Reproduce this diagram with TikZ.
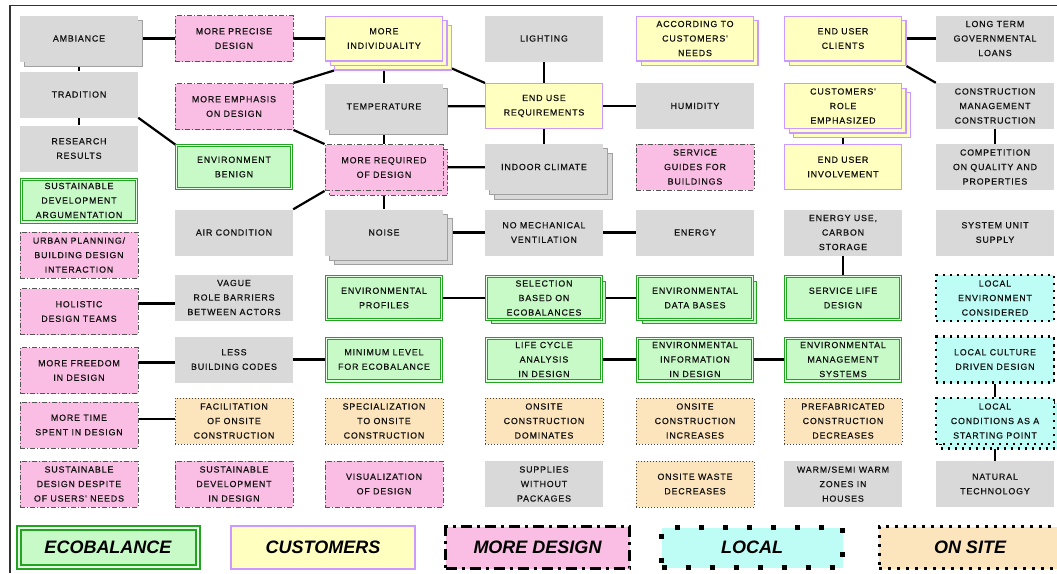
\documentclass[tikz,border=0pt]{standalone}
\usepackage{fontspec}
\usetikzlibrary{shadows,backgrounds}
\newfontfamily\dfont[LetterSpace=10,FakeBold=0.6]{Liberation Sans}
\newfontfamily\lfont{Liberation Sans}
\definecolor{boxgray}{HTML}{D9D9D9}
\definecolor{shadowgray}{HTML}{A0A0A0}
\definecolor{ecofill}{HTML}{C8FAC8}
\definecolor{ecogap}{HTML}{E6FFE6}
\definecolor{ecogreen}{HTML}{22A322}
\definecolor{custfill}{HTML}{FFFFC0}
\definecolor{custline}{HTML}{CC99FF}
\definecolor{pinkfill}{HTML}{FABEE4}
\definecolor{pinkline}{HTML}{555555}
\definecolor{localfill}{HTML}{BEFCF6}
\definecolor{sitefill}{HTML}{FCE4BC}
\definecolor{txt}{HTML}{111111}
\definecolor{framecol}{HTML}{333333}
\tikzset{
  base/.style={rectangle, minimum width=118pt, minimum height=46pt, inner sep=0pt,
    align=center, text=txt, font=\dfont\fontsize{8.8}{14.5}\selectfont},
  gbox/.style={base, fill=boxgray},
  ebox/.style={base, fill=ecofill, draw=ecogreen, line width=1pt, double=ecogap,
    double distance=1.4pt, minimum width=114.6pt, minimum height=42.6pt},
  cbox/.style={base, fill=custfill, draw=custline, line width=1.3pt,
    minimum width=116.7pt, minimum height=44.7pt},
  pbox/.style={base, fill=pinkfill, draw=pinkline, line width=0.9pt,
    dash pattern=on 5pt off 2pt on 1.2pt off 2pt},
  lbox/.style={base, fill=localfill, draw=black, line width=2.2pt,
    dash pattern=on 2.2pt off 4.8pt},
  obox/.style={base, fill=sitefill, draw=black!75, line width=0.9pt,
    dash pattern=on 0.9pt off 2.1pt},
  shA/.style={general shadow={shadow xshift=4.5pt, shadow yshift=-4.5pt, #1}},
  shB/.style={general shadow={shadow xshift=9pt, shadow yshift=-9pt, #1},
    general shadow={shadow xshift=4.5pt, shadow yshift=-4.5pt, #1}},
  gsh/.style={fill=boxgray, draw=shadowgray, line width=0.8pt},
  link/.style={line width=2.2pt, black},
  legbox/.style={rectangle, minimum width=186pt, minimum height=45pt, inner sep=0pt,
    text=black, font=\lfont\bfseries\itshape\fontsize{18}{20}\selectfont}
}
\begin{document}
\begin{tikzpicture}[x=1pt,y=-1pt]
\useasboundingbox (0,0) rectangle (1057,573);
\draw[framecol, line width=1.4pt] (10,573) -- (10,5.5) -- (1057,5.5);

% column 1
\node[gbox, shA={gsh}] (amb) at (79,38.5) {AMBIANCE};
\node[gbox] (trad) at (79,94.5) {TRADITION};
\node[gbox] (res) at (79,148.5) {RESEARCH\\RESULTS};
\node[ebox] (sda) at (79,200.5) {SUSTAINABLE\\DEVELOPMENT\\ARGUMENTATION};
\node[pbox] (urb) at (79,255) {URBAN PLANNING/\\BUILDING DESIGN\\INTERACTION};
\node[pbox] (hol) at (79,311.5) {HOLISTIC\\DESIGN TEAMS};
\node[pbox] (mfd) at (79,370.5) {MORE FREEDOM\\IN DESIGN};
\node[pbox] (mts) at (79,425) {MORE TIME\\SPENT IN DESIGN};
\node[pbox] (sdd) at (79,484) {SUSTAINABLE\\DESIGN DESPITE\\OF USERS' NEEDS};

% column 2
\node[pbox] (mpd) at (234,38.5) {MORE PRECISE\\DESIGN};
\node[pbox] (med) at (234,106.5) {MORE EMPHASIS\\ON DESIGN};
\node[ebox] (eb) at (234,167) {ENVIRONMENT\\BENIGN};
\node[gbox] (ac) at (234,232.5) {AIR CONDITION};
\node[gbox] (vag) at (234,297.5) {VAGUE\\ROLE BARRIERS\\BETWEEN ACTORS};
\node[gbox] (less) at (234,359.5) {LESS\\BUILDING CODES};
\node[obox] (fac) at (234,421) {FACILITATION\\OF ONSITE\\CONSTRUCTION};
\node[pbox] (sdv) at (234,484) {SUSTAINABLE\\DEVELOPMENT\\IN DESIGN};

% column 3
\node[cbox, shB={fill=custfill, draw=custline}] (mi) at (384,38.5) {MORE\\INDIVIDUALITY};
\node[gbox, shA={gsh}] (temp) at (384,106.5) {TEMPERATURE};
\node[pbox, shA={fill=pinkfill, draw=pinkline}] (mr) at (384,167.5) {MORE REQUIRED\\OF DESIGN};
\node[gbox, shB={gsh}] (noise) at (384,232.5) {NOISE};
\node[ebox] (ep) at (384,298) {ENVIRONMENTAL\\PROFILES};
\node[ebox] (min) at (384,359.5) {MINIMUM LEVEL\\FOR ECOBALANCE};
\node[obox] (spec) at (384,421) {SPECIALIZATION\\TO ONSITE\\CONSTRUCTION};
\node[pbox] (vis) at (384,484) {VISUALIZATION\\OF DESIGN};

% column 4
\node[gbox] (light) at (544,38.5) {LIGHTING};
\node[cbox] (eur) at (544,106) {END USE\\REQUIREMENTS};
\node[gbox, shB={gsh}] (ic) at (544,167) {INDOOR CLIMATE};
\node[gbox] (nmv) at (544,232.5) {NO MECHANICAL\\VENTILATION};
\node[ebox, shA={fill=ecofill, draw=ecogreen}] (sel) at (544,298) {SELECTION\\BASED ON\\ECOBALANCES};
\node[ebox] (lca) at (544,359.5) {LIFE CYCLE\\ANALYSIS\\IN DESIGN};
\node[obox] (osd) at (544,421) {ONSITE\\CONSTRUCTION\\DOMINATES};
\node[gbox] (sup) at (544,484) {SUPPLIES\\WITHOUT\\PACKAGES};

% column 5
\node[cbox, shA={fill=custfill, draw=custline}] (acc) at (695,38.5) {ACCORDING TO\\CUSTOMERS'\\NEEDS};
\node[gbox] (hum) at (695,106) {HUMIDITY};
\node[pbox] (sgb) at (695,167) {SERVICE\\GUIDES FOR\\BUILDINGS};
\node[gbox] (energy) at (695,232.5) {ENERGY};
\node[ebox, shA={fill=ecofill, draw=ecogreen}] (edb) at (695,298) {ENVIRONMENTAL\\DATA BASES};
\node[ebox] (einf) at (695,359.5) {ENVIRONMENTAL\\INFORMATION\\IN DESIGN};
\node[obox] (osi) at (695,421) {ONSITE\\CONSTRUCTION\\INCREASES};
\node[obox] (owd) at (695,484) {ONSITE WASTE\\DECREASES};

% column 6
\node[cbox, shA={fill=custfill, draw=custline}] (euc) at (843,38.5) {END USER\\CLIENTS};
\node[cbox, shB={fill=custfill, draw=custline}] (cre) at (843,106) {CUSTOMERS'\\ROLE\\EMPHASIZED};
\node[cbox] (eui) at (843,167) {END USER\\INVOLVEMENT};
\node[gbox] (eus) at (843,232.5) {ENERGY USE,\\CARBON\\STORAGE};
\node[ebox] (sld) at (843,298) {SERVICE LIFE\\DESIGN};
\node[ebox] (ems) at (843,359.5) {ENVIRONMENTAL\\MANAGEMENT\\SYSTEMS};
\node[obox] (pcd) at (843,421) {PREFABRICATED\\CONSTRUCTION\\DECREASES};
\node[gbox] (warm) at (843,484) {WARM/SEMI WARM\\ZONES IN\\HOUSES};

% column 7
\node[gbox] (ltg) at (995,38.5) {LONG TERM\\GOVERNMENTAL\\LOANS};
\node[gbox] (cmc) at (995,106) {CONSTRUCTION\\MANAGEMENT\\CONSTRUCTION};
\node[gbox] (comp) at (995,167) {COMPETITION\\ON QUALITY AND\\PROPERTIES};
\node[gbox] (sys) at (995,232.5) {SYSTEM UNIT\\SUPPLY};
\node[lbox] (lec) at (995,298) {LOCAL\\ENVIRONMENT\\CONSIDERED};
\node[lbox] (lcd) at (995,359.5) {LOCAL CULTURE\\DRIVEN DESIGN};
\node[lbox, shA={fill=localfill, draw=black}] (lcs) at (995,421) {LOCAL\\CONDITIONS AS A\\STARTING POINT};
\node[gbox] (nat) at (995,484) {NATURAL\\TECHNOLOGY};

% legend
\node[legbox, fill=ecofill, draw=ecogreen, line width=2pt, double=ecogap, double distance=2pt,
  minimum width=179pt, minimum height=39pt] (legeco) at (108,547.5) {ECOBALANCE};
\node[legbox, fill=custfill, draw=custline, line width=2.2pt, minimum width=184pt,
  minimum height=43pt] (legcus) at (323,547.5) {CUSTOMERS};
\node[legbox, fill=pinkfill, draw=black, line width=3pt,
  dash pattern=on 11pt off 5pt on 3pt off 5pt, minimum width=184pt,
  minimum height=42pt] (legdes) at (537.5,547.5) {MORE DESIGN};
\node[legbox, fill=localfill, draw=black, line width=5pt,
  dash pattern=on 5pt off 19pt, minimum width=181pt,
  minimum height=40pt] (legloc) at (752,547.5) {LOCAL};
\node[legbox, fill=sitefill, draw=black, line width=3pt,
  dash pattern=on 3pt off 6pt, minimum width=182pt,
  minimum height=42pt] (legsite) at (970,547.5) {ON SITE};

% connectors
\begin{scope}[on background layer]
\draw[link] (amb) -- (mpd);
\draw[link] (amb) -- (trad);
\draw[link] (trad) -- (res);
\draw[link] (trad.south east) -- (eb.north west);
\draw[link] (mpd) -- (mi);
\draw[link] (med.north east) -- ([shift={(9,9)}]mi.south west);
\draw[link] (med.south east) -- (mr.north west);
\draw[link] (mi) -- (temp);
\draw[link] ([shift={(9,7)}]mi.south east) -- (eur.north west);
\draw[link] (temp) -- (eur);
\draw[link] (temp) -- (mr);
\draw[link] (mr) -- (ic);
\draw[link] (mr.south west) -- (ac.north east);
\draw[link] (mr) -- (noise);
\draw[link] (eur) -- (light);
\draw[link] (eur) -- (hum);
\draw[link] (eur) -- (ic);
\draw[link] (noise) -- (nmv);
\draw[link] (nmv) -- (energy);
\draw[link] (euc) -- (ltg);
\draw[link] ([shift={(4.5,4.5)}]euc.south east) -- (cmc.north west);
\draw[link] (cre) -- (eui);
\draw[link] (cmc) -- (comp);
\draw[link] (eus) -- (sld);
\draw[link] (hol.east |- 0,303.5) -- (vag.west |- 0,303.5);
\draw[link] (ep) -- (sel);
\draw[link] (sel) -- (edb);
\draw[link] (mfd.east |- 0,362.5) -- (less.west |- 0,362.5);
\draw[link] (less) -- (min);
\draw[link] (lca) -- (einf);
\draw[link] (einf) -- (ems);
\draw[link] (lcd) -- (lcs);
\draw[link] (lcs) -- (nat);
\draw[link] (mts.east |- 0,419) -- (fac.west |- 0,419);
\end{scope}
\end{tikzpicture}
\end{document}
